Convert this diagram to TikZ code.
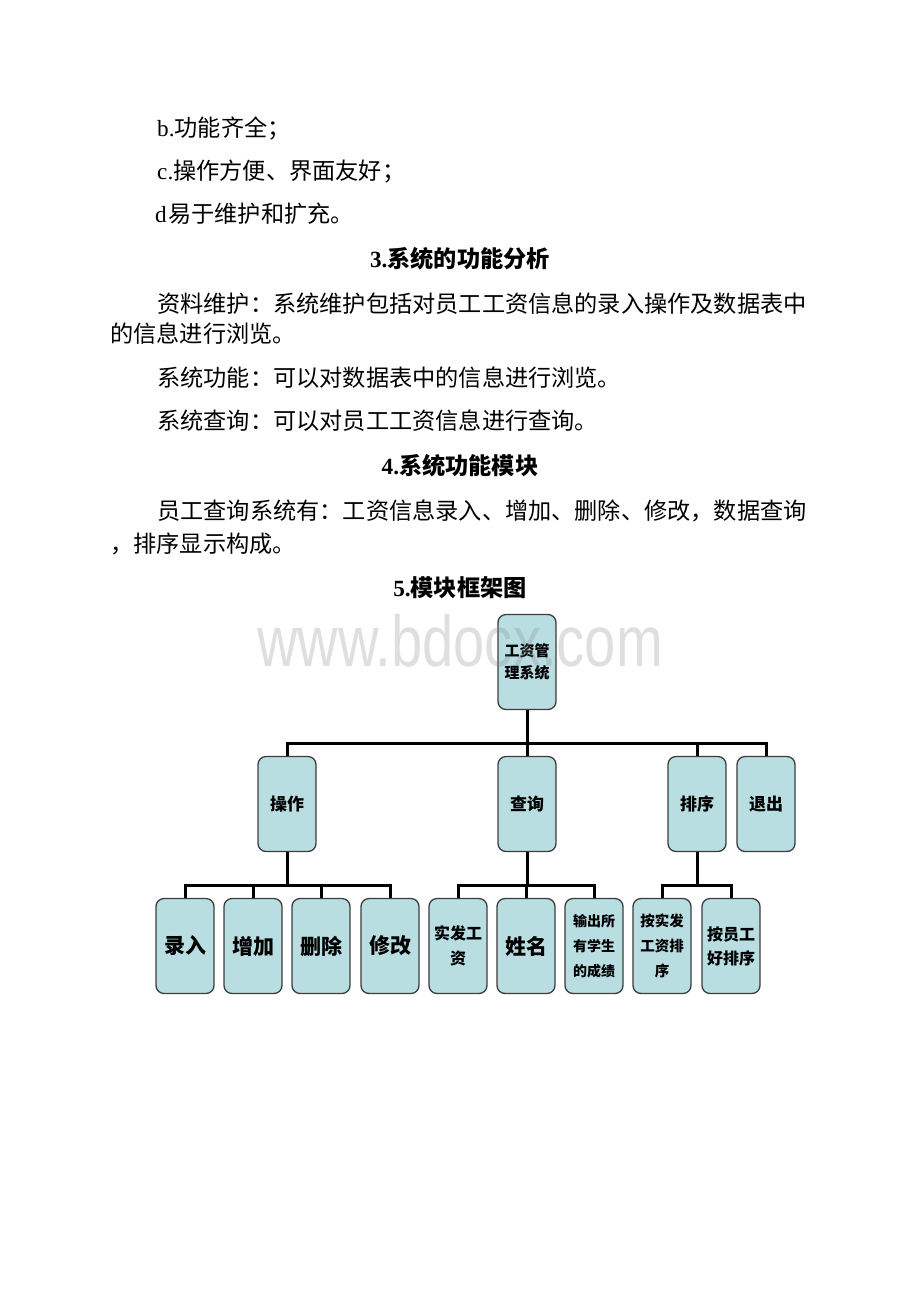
\documentclass[tikz,border=0pt]{standalone}
\usepackage{fontspec}
\setmainfont{Liberation Serif}
\newfontfamily\cjk{Noto Sans CJK SC}
\newfontfamily\wmfont{Liberation Sans}
\definecolor{boxfill}{RGB}{185,222,226}
\definecolor{boxline}{RGB}{60,60,60}
\begin{document}
\begin{tikzpicture}[x=1pt, y=-1pt,
		txt/.style={anchor=base west, inner sep=0, font=\fontsize{23.2}{23.2}\selectfont},
		head/.style={anchor=base, inner sep=0, font=\fontsize{23.2}{23.2}\selectfont\bfseries},
		box/.style={draw=boxline, fill=boxfill, line width=1.3pt, rounded corners=8pt, minimum width=58pt, minimum height=95pt, inner sep=0, align=center, font=\cjk\bfseries},
		link/.style={line width=3pt, black}]
	\useasboundingbox (0,0) rectangle (920,1302);
	% text above the chart
	\node (t1) [txt] at (157,136) {b.{\cjk 功能齐全；}};
	\node (t2) [txt] at (157,179) {c.{\cjk 操作方便、界面友好；}};
	\node (t3) [txt] at (155,222) {d\hspace{1.5pt}{\cjk 易于维护和扩充。}};
	\node (h3) [head] at (460,267) {3.{\cjk 系统的功能分析}};
	\node (t4) [txt] at (157,312) {\cjk 资料维护：系统维护包括对员工工资信息的录入操作及数据表中};
	\node (t5) [txt] at (110,342) {\cjk 的信息进行浏览。};
	\node (t6) [txt] at (157,386) {\cjk 系统功能：可以对数据表中的信息进行浏览。};
	\node (t7) [txt] at (157,429) {\cjk 系统查询：可以对员工工资信息进行查询。};
	\node (h4) [head] at (460,474) {4.{\cjk 系统功能模块}};
	\node (t8) [txt] at (157,519) {\cjk 员工查询系统有：工资信息录入、增加、删除、修改，数据查询};
	\node (t9) [txt] at (110,552) {\cjk ，排序显示构成。};
	\node (h5) [head] at (460,596) {5.{\cjk 模块框架图}};
	% chart
	\node (root) [box, font=\cjk\bfseries\fontsize{15}{22}\selectfont] at (527,662) {工资管\\理系统};
	\node (czh) [box, font=\cjk\bfseries\fontsize{17}{22}\selectfont] at (287,804) {操作};
	\node (cx) [box, font=\cjk\bfseries\fontsize{17}{22}\selectfont] at (527,804) {查询};
	\node (px) [box, font=\cjk\bfseries\fontsize{17}{22}\selectfont] at (697,804) {排序};
	\node (tc) [box, font=\cjk\bfseries\fontsize{17}{22}\selectfont] at (766,804) {退出};
	\node (lr) [box, font=\cjk\bfseries\fontsize{21}{25}\selectfont] at (185,946) {录入};
	\node (zj) [box, font=\cjk\bfseries\fontsize{21}{25}\selectfont] at (253,946) {增加};
	\node (sc) [box, font=\cjk\bfseries\fontsize{21}{25}\selectfont] at (321,946) {删除};
	\node (xg) [box, font=\cjk\bfseries\fontsize{21}{25}\selectfont] at (390,946) {修改};
	\node (sfgz) [box, font=\cjk\bfseries\fontsize{16}{25}\selectfont] at (458,946) {实发工\\资};
	\node (xm) [box, font=\cjk\bfseries\fontsize{21}{25}\selectfont] at (526,946) {姓名};
	\node (sccj) [box, font=\cjk\bfseries\fontsize{14}{25}\selectfont] at (594,946) {输出所\\有学生\\的成绩};
	\node (pgz) [box, font=\cjk\bfseries\fontsize{14.5}{25}\selectfont] at (662,946) {按实发\\工资排\\序};
	\node (pyg) [box, font=\cjk\bfseries\fontsize{16}{24}\selectfont] at (731,946) {按员工\\好排序};
	\coordinate (bus1) at (527,743);
	\coordinate (bus2) at (287,885);
	\coordinate (bus3) at (527,885);
	\coordinate (bus4) at (697,885);
	\draw[link] (root.south) -- (bus1);
	\draw[link] (bus1) -| (czh.north);
	\draw[link] (bus1) -- (cx.north);
	\draw[link] (bus1) -| (px.north);
	\draw[link] (bus1) -| (tc.north);
	\draw[link] (czh.south) -- (bus2);
	\draw[link] (bus2) -| (lr.north);
	\draw[link] (bus2) -| (zj.north);
	\draw[link] (bus2) -| (sc.north);
	\draw[link] (bus2) -| (xg.north);
	\draw[link] (cx.south) -- (bus3);
	\draw[link] (bus3) -| (sfgz.north);
	\draw[link] (bus3) -| (xm.north);
	\draw[link] (bus3) -| (sccj.north);
	\draw[link] (px.south) -- (bus4);
	\draw[link] (bus4) -| (pgz.north);
	\draw[link] (bus4) -| (pyg.north);
	% watermark
	\node (wm) [anchor=base, inner sep=0, xscale=0.78, text=gray, opacity=0.25, font=\wmfont\fontsize{72}{72}\selectfont] at (460,666) {www.bdocx.com};
\end{tikzpicture}
\end{document}
